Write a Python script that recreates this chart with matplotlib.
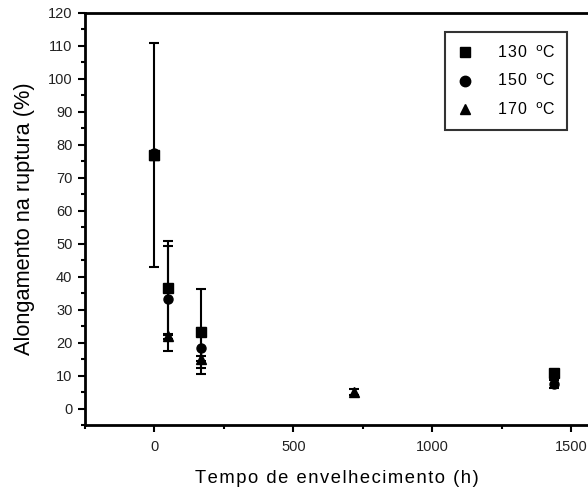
import matplotlib
matplotlib.use("Agg")
import matplotlib.pyplot as plt
from matplotlib.ticker import MultipleLocator
from matplotlib.lines import Line2D

plt.rcParams['font.family'] = ['Liberation Sans', 'DejaVu Sans']

t130 = [0, 48, 168, 1440]
y130 = [77, 36.6, 23.3, 10.8]
e130 = [34, 14.2, 12.9, 0.0]

t150 = [0, 48, 168, 1440]
y150 = [77.5, 33.3, 18.4, 7.4]
e150 = [0, 16, 6.0, 1.2]

t170 = [0, 48, 168, 720]
y170 = [77, 21.9, 15.1, 5]
e170 = [0, 0.8, 0.8, 1.0]

labels = ['130 °C', '150 °C', '170 °C']
markers = ['s', 'o', '^']

HS = '\u200a'


def spaced(s):
    return HS.join(s)


fig = plt.figure(figsize=(5.88, 4.9), dpi=100)
ax = fig.add_axes([85/588, 65/490, 1 - 85/588, (425 - 13)/490])

common = dict(color='black', ecolor='black', elinewidth=1.5, capsize=3.6, capthick=1.5, linestyle='none')
ax.errorbar(t130, y130, yerr=e130, marker=markers[0], markersize=6.5, **common)
ax.errorbar(t150, y150, yerr=e150, marker=markers[1], markersize=6.5, **common)
ax.errorbar(t170, y170, yerr=e170, marker=markers[2], markersize=7, **common)

ax.set_xlim(-250, 1561)
ax.set_ylim(-5, 120)
ax.xaxis.set_major_locator(MultipleLocator(500))
ax.xaxis.set_minor_locator(MultipleLocator(250))
ax.yaxis.set_major_locator(MultipleLocator(10))
ax.yaxis.set_minor_locator(MultipleLocator(5))
ax.tick_params(which='major', direction='out', length=5, width=1.5, labelsize=10.5, colors='black', labelcolor='#222222', pad=4)
ax.tick_params(which='minor', direction='out', length=3, width=1.5)
ax.tick_params(axis='x', pad=6)
for s in ['left', 'bottom', 'top']:
    ax.spines[s].set_linewidth(2)
ax.spines['right'].set_visible(False)

ax.set_xlabel(spaced('Tempo de envelhecimento (h)'), fontsize=13.2, labelpad=11)
ax.set_ylabel('Alongamento na ruptura (%)', fontsize=15.7, labelpad=9)


def leg_label(s):
    num, unit = s.split(' ')
    return spaced(num) + '  ' + '$^{\\mathrm{o}}$C'


handles = [Line2D([], [], color='black', marker=m, linestyle='none', markersize=7.5) for m in markers]
leg = ax.legend(handles, [leg_label(l) for l in labels], loc='upper left', bbox_to_anchor=(445/588, 1 - 32/490),
                bbox_transform=fig.transFigure,
                frameon=True, fancybox=False, edgecolor='black', fontsize=11.5,
                borderpad=0.75, labelspacing=0.75, handlelength=1.0, handletextpad=1.5, borderaxespad=0,
                numpoints=1)
leg.get_frame().set_linewidth(1.5)

fig.savefig('out.png', dpi=100)
